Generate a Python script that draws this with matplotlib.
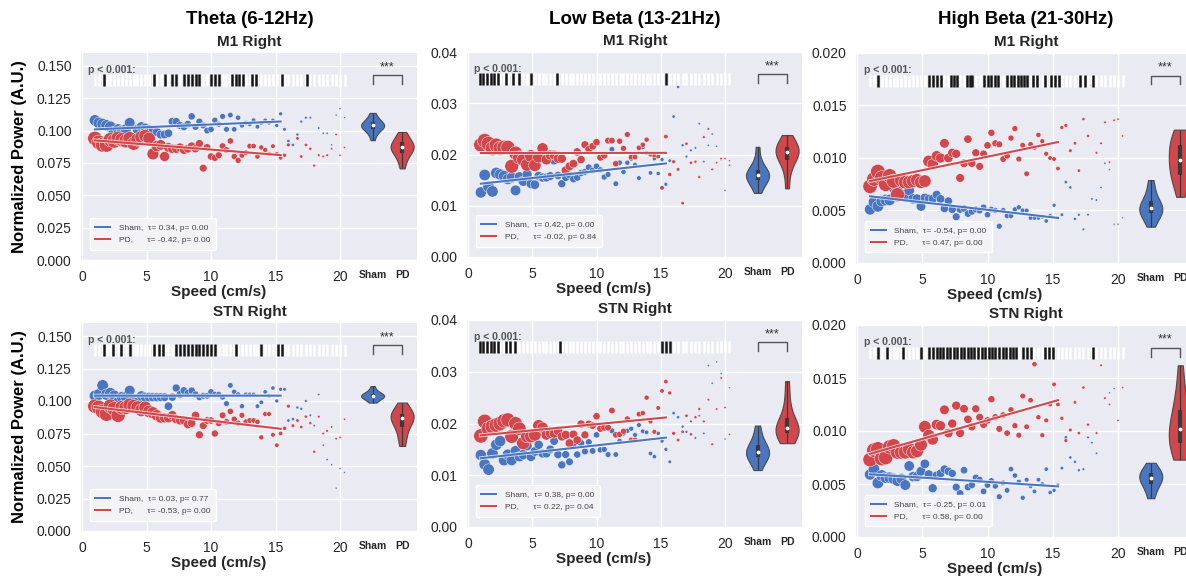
import numpy as np
import matplotlib.pyplot as plt
import matplotlib.patheffects as pe
from matplotlib.transforms import blended_transform_factory

plt.rcParams['font.family'] = ['Liberation Sans', 'DejaVu Sans']

NA = np.nan

# speed bins (cm/s): dense part up to 15.4, sparse part after
SPEED = [1.0, 1.3, 1.6, 1.9, 2.2, 2.5, 2.8, 3.1, 3.4, 3.7, 4.0, 4.3, 4.6, 4.9, 5.2, 5.5,
         5.8, 6.1, 6.4, 6.7, 7.0, 7.3, 7.6, 7.9, 8.2, 8.5, 8.8, 9.1, 9.4, 9.7, 10.0, 10.3,
         10.6, 10.9, 11.2, 11.5, 11.8, 12.1, 12.4, 12.7, 13.0, 13.3, 13.6, 13.9, 14.2, 14.5,
         14.8, 15.1, 15.4,
         15.7, 16.0, 16.35, 16.7, 17.0, 17.35, 17.7, 18.0, 18.35, 18.7, 19.0, 19.35, 19.7,
         20.0, 20.35]

# samples per speed bin (drives the marker size)
SHAM_N = [150, 158, 160, 158, 155, 152, 148, 145, 140, 135, 130, 124, 118, 112, 106, 100,
          96, 92, 88, 84, 80, 76, 72, 68, 64, 61, 58, 55, 52, 49, 46, 43, 41, 39, 37, 35,
          33, 31, 29, 27, 25, 24, 23, 22, 21, 20, 19, 17, 16,
          13, 11, 10, 9, 8, 7, 6, 5, 5, 4, 4, 3, 3, 3, 2]
PD_N = [250, 255, 260, 258, 252, 248, 244, 240, 232, 225, 218, 210, 202, 195, 188, 170,
        150, 132, 120, 110, 104, 98, 94, 90, 86, 82, 78, 74, 70, 66, 62, 58, 55, 52, 49,
        46, 43, 41, 39, 37, 35, 33, 31, 29, 27, 25, 23, 22, 21,
        17, 15, 13, 12, 11, 10, 9, 8, 7, 6, 6, 5, 5, 4, 4]

# ---- Theta ----
THETA_M1_SHAM = [0.108, 0.106, 0.105, 0.104, 0.103, 0.099, 0.101, 0.100, 0.101, 0.106,
                 0.094, 0.101, 0.103, 0.102, 0.101, 0.100, 0.099, 0.097, 0.097, 0.098,
                 0.107, 0.107, 0.104, 0.103, 0.105, 0.111, 0.103, 0.107, 0.104, 0.100,
                 0.101, 0.108, 0.105, 0.111, 0.101, 0.112, 0.101, 0.110, 0.104, 0.106,
                 0.105, 0.108, 0.103, 0.106, 0.108, 0.106, 0.108, 0.104, 0.113,
                 0.101, 0.092, 0.089, 0.097, 0.107, 0.110, 0.110, NA, 0.102, 0.098, 0.098,
                 0.089, 0.112, 0.117, 0.110]
THETA_M1_PD = [0.094, 0.091, 0.089, 0.089, 0.093, 0.092, 0.094, 0.093, 0.092, 0.094,
               0.090, 0.093, 0.095, 0.096, 0.094, 0.082, 0.088, 0.089, 0.080, 0.087,
               0.086, 0.086, 0.087, 0.085, 0.086, 0.088, 0.086, 0.090, 0.071, 0.087,
               0.080, 0.079, 0.081, 0.088, 0.085, 0.092, 0.080, 0.077, 0.081, 0.083,
               0.088, 0.088, 0.080, 0.087, 0.085, 0.082, 0.088, 0.082, 0.079,
               0.081, 0.089, NA, 0.094, 0.080, 0.089, 0.086, 0.073, 0.081, 0.080, 0.081,
               0.086, 0.097, 0.081, 0.087]
THETA_STN_SHAM = [0.104, 0.105, 0.112, 0.105, 0.106, 0.104, 0.099, 0.103, 0.103, 0.108,
                  0.101, 0.099, 0.104, 0.103, 0.103, 0.103, 0.103, 0.103, 0.103, 0.096,
                  0.103, 0.110, 0.105, 0.108, 0.106, 0.108, 0.105, 0.103, 0.104, 0.104,
                  0.107, 0.105, 0.105, 0.103, 0.098, 0.112, 0.107, 0.105, 0.096, 0.105,
                  0.105, 0.105, 0.096, 0.099, 0.107, 0.104, 0.110, 0.100, 0.109,
                  0.109, 0.085, 0.086, 0.095, 0.094, 0.100, 0.089, 0.081, 0.105, 0.066,
                  0.055, 0.051, 0.033, 0.048, 0.045]
THETA_STN_PD = [0.096, 0.095, 0.092, 0.090, 0.096, 0.094, 0.089, 0.095, 0.095, 0.097,
                0.096, 0.095, 0.093, 0.095, 0.092, 0.091, 0.089, 0.087, 0.087, 0.087,
                0.089, 0.086, 0.085, 0.085, 0.082, 0.083, 0.089, 0.074, 0.081, 0.085,
                0.085, 0.075, 0.083, 0.089, 0.084, 0.092, 0.086, 0.083, 0.089, 0.084,
                0.085, 0.085, 0.084, 0.072, 0.090, 0.090, 0.074, 0.066, 0.075,
                0.079, 0.096, 0.081, 0.085, 0.080, 0.088, 0.083, 0.061, 0.088, 0.075,
                0.077, 0.080, 0.071, 0.072, 0.086]

# ---- Low beta ----
LOWB_M1_SHAM = [0.0126, 0.0160, 0.0137, 0.0128, 0.0164, 0.0161, 0.0158, 0.0152, 0.0155, 0.0130,
                0.0156, 0.0148, 0.0161, 0.0143, 0.0141, 0.0158, 0.0155, 0.0155, 0.0158, 0.0188,
                0.0159, 0.0143, 0.0155, 0.0160, 0.0152, 0.0155, 0.0164, 0.0166, 0.0175, 0.0169,
                0.0177, 0.0170, 0.0156, 0.0161, 0.0210, 0.0143, 0.0184, 0.0166, 0.0184, 0.0192,
                0.0180, 0.0154, 0.0214, 0.0203, 0.0164, 0.0192, 0.0163, 0.0190, 0.0142,
                0.0188, 0.0274, 0.0332, 0.0218, 0.0196, 0.0208, 0.0213, 0.0260, 0.0186, 0.0218,
                0.0240, 0.0216, 0.0190, 0.0130, 0.0188]
LOWB_M1_PD = [0.0219, 0.0227, 0.0221, 0.0212, 0.0218, 0.0212, 0.0214, 0.0214, 0.0177, 0.0203,
              0.0194, 0.0190, 0.0180, 0.0197, 0.0179, 0.0195, 0.0212, 0.0190, 0.0199, 0.0199,
              0.0192, 0.0192, 0.0169, 0.0177, 0.0182, 0.0205, 0.0190, 0.0219, 0.0210, 0.0216,
              0.0224, 0.0194, 0.0198, 0.0227, 0.0227, 0.0182, 0.0226, 0.0212, 0.0239, 0.0195,
              0.0195, 0.0213, 0.0219, 0.0229, 0.0200, 0.0198, 0.0196, 0.0135, 0.0235,
              0.0161, 0.0186, 0.0171, 0.0105, 0.0221, 0.0184, 0.0186, 0.0156, 0.0234, 0.0250,
              0.0171, 0.0184, 0.0192, 0.0192, 0.0179]
LOWB_STN_SHAM = [0.0139, 0.0121, 0.0111, 0.0142, 0.0159, 0.0166, 0.0129, 0.0140, 0.0129, 0.0147,
                 0.0136, 0.0140, 0.0157, 0.0136, 0.0146, 0.0159, 0.0142, 0.0142, 0.0150, 0.0166,
                 0.0140, 0.0120, 0.0140, 0.0126, 0.0160, 0.0140, 0.0162, 0.0146, 0.0164, 0.0147,
                 0.0178, 0.0149, 0.0150, 0.0140, 0.0186, 0.0140, 0.0166, 0.0181, 0.0186, 0.0190,
                 0.0178, 0.0197, 0.0185, 0.0183, 0.0142, 0.0136, 0.0181, 0.0166, 0.0150,
                 0.0126, 0.0220, 0.0212, 0.0194, 0.0184, 0.0204, 0.0172, 0.0215, 0.0181, 0.0312,
                 0.0278, 0.0319, 0.0296, 0.0170, 0.0269]
LOWB_STN_PD = [0.0176, 0.0204, 0.0190, 0.0194, 0.0197, 0.0200, 0.0205, 0.0207, 0.0175, 0.0200,
               0.0190, 0.0162, 0.0175, 0.0175, 0.0178, 0.0196, 0.0192, 0.0178, 0.0181, 0.0181,
               0.0186, 0.0175, 0.0178, 0.0162, 0.0179, 0.0168, 0.0199, 0.0178, 0.0199, 0.0196,
               0.0214, 0.0190, 0.0192, 0.0192, 0.0225, 0.0178, 0.0179, 0.0185, 0.0209, 0.0168,
               0.0168, 0.0218, 0.0220, 0.0250, 0.0204, 0.0184, 0.0230, 0.0263, 0.0281,
               0.0259, 0.0181, 0.0168, 0.0184, 0.0215, 0.0179, 0.0212, 0.0228, 0.0204, 0.0246,
               0.0160, 0.0228, 0.0288, 0.0231, 0.0179]

# ---- High beta ----
HIGHB_M1_SHAM = [0.0051, 0.0058, 0.0054, 0.0059, 0.0060, 0.0060, 0.0072, 0.0070, 0.0065, 0.0063,
                 0.0069, 0.0061, 0.0061, 0.0054, 0.0062, 0.0061, 0.0061, 0.0065, 0.0061, 0.0052,
                 0.0059, 0.0051, 0.0044, 0.0051, 0.0052, 0.0047, 0.0049, 0.0051, 0.0050, 0.0053,
                 0.0046, 0.0051, 0.0050, 0.0035, 0.0050, 0.0045, 0.0045, 0.0051, 0.0053, 0.0050,
                 0.0050, 0.0043, 0.0043, 0.0043, 0.0044, 0.0040, 0.0045, 0.0055, 0.0043,
                 0.0046, 0.0077, 0.0072, 0.0042, 0.0046, 0.0032, 0.0046, 0.0061, 0.0060, 0.0072,
                 0.0095, 0.0089, 0.0037, 0.0037, 0.0043]
HIGHB_M1_PD = [0.0073, 0.0080, 0.0087, 0.0081, 0.0075, 0.0083, 0.0078, 0.0065, 0.0079, 0.0077,
               0.0077, 0.0078, 0.0079, 0.0077, 0.0078, 0.0097, 0.0094, 0.0102, 0.0100, 0.0114,
               0.0100, 0.0105, 0.0104, 0.0081, 0.0095, 0.0118, 0.0095, 0.0105, 0.0092, 0.0104,
               0.0112, 0.0124, 0.0114, 0.0113, 0.0099, 0.0102, 0.0119, 0.0128, 0.0099, 0.0112,
               0.0085, 0.0113, 0.0110, 0.0122, 0.0116, 0.0104, 0.0100, 0.0099, 0.0090,
               0.0129, 0.0131, 0.0107, 0.0114, 0.0088, 0.0137, 0.0121, 0.0169, 0.0105, 0.0114,
               0.0134, 0.0096, 0.0136, 0.0137, 0.0121]
HIGHB_STN_SHAM = [0.0059, 0.0064, 0.0051, 0.0058, 0.0056, 0.0056, 0.0055, 0.0053, 0.0055, 0.0049,
                  0.0067, 0.0057, 0.0057, 0.0062, 0.0069, 0.0059, 0.0046, 0.0058, 0.0060, 0.0064,
                  0.0062, 0.0060, 0.0047, 0.0041, 0.0063, 0.0047, 0.0049, 0.0056, 0.0054, 0.0043,
                  0.0049, 0.0053, 0.0048, 0.0038, 0.0051, 0.0044, 0.0064, 0.0058, 0.0052, 0.0037,
                  0.0054, 0.0048, 0.0043, 0.0054, 0.0050, 0.0064, 0.0042, 0.0044, 0.0049,
                  0.0065, 0.0094, 0.0075, 0.0071, 0.0063, 0.0064, 0.0094, 0.0089, 0.0079, NA,
                  NA, 0.0136, 0.0140, NA, NA]
HIGHB_STN_PD = [0.0073, 0.0082, 0.0083, 0.0074, 0.0075, 0.0085, 0.0086, 0.0080, 0.0080, 0.0080,
                0.0083, 0.0080, 0.0081, 0.0087, 0.0104, 0.0096, 0.0092, 0.0106, 0.0105, 0.0120,
                0.0098, 0.0107, 0.0124, 0.0098, 0.0121, 0.0111, 0.0104, 0.0121, 0.0113, 0.0106,
                0.0110, 0.0130, 0.0113, 0.0102, 0.0115, 0.0098, 0.0120, 0.0105, 0.0096, 0.0133,
                0.0104, 0.0129, 0.0163, 0.0113, 0.0096, 0.0110, 0.0125, 0.0144, 0.0125,
                0.0112, 0.0091, 0.0101, 0.0127, 0.0098, 0.0141, 0.0106, NA, 0.0098, 0.0162,
                0.0131, 0.0125, NA, 0.0110, 0.0141]

# violin (group comparison) values
V_THETA_M1_SHAM = [0.0926, 0.097, 0.099, 0.101, 0.102, 0.103, 0.1035, 0.104, 0.1045, 0.105,
                   0.106, 0.107, 0.109, 0.111, 0.1137]
V_THETA_M1_PD = [0.0708, 0.076, 0.079, 0.082, 0.084, 0.085, 0.086, 0.087, 0.088, 0.089,
                 0.090, 0.092, 0.094, 0.096, 0.099]
V_THETA_STN_SHAM = [0.0988, 0.1005, 0.102, 0.1028, 0.1033, 0.1038, 0.1042, 0.1047, 0.1055,
                    0.1065, 0.108, 0.1115]
V_THETA_STN_PD = [0.0654, 0.071, 0.076, 0.080, 0.083, 0.085, 0.087, 0.088, 0.089, 0.090,
                  0.092, 0.094, 0.0988]
V_LOWB_M1_SHAM = [0.0125, 0.0138, 0.0147, 0.0152, 0.0156, 0.0159, 0.0161, 0.0164, 0.0168,
                  0.0175, 0.0188, 0.0215]
V_LOWB_M1_PD = [0.0134, 0.0165, 0.0182, 0.0192, 0.0198, 0.0202, 0.0206, 0.0210, 0.0214,
                0.0219, 0.0226, 0.0238]
V_LOWB_STN_SHAM = [0.0110, 0.0125, 0.0133, 0.0138, 0.0142, 0.0145, 0.0149, 0.0155, 0.0163,
                   0.0175, 0.0196]
V_LOWB_STN_PD = [0.0162, 0.0172, 0.0178, 0.0182, 0.0186, 0.0189, 0.0193, 0.0198, 0.0206,
                 0.0222, 0.0248, 0.0282]
V_HIGHB_M1_SHAM = [0.00346, 0.0042, 0.0046, 0.0049, 0.0051, 0.0052, 0.0054, 0.0057, 0.0062,
                   0.0069, 0.0079]
V_HIGHB_M1_PD = [0.0063, 0.0075, 0.0080, 0.0084, 0.0090, 0.0095, 0.0098, 0.0103, 0.0108,
                 0.0112, 0.0117, 0.0122, 0.0127]
V_HIGHB_STN_SHAM = [0.00366, 0.0044, 0.0049, 0.0052, 0.0055, 0.0057, 0.0059, 0.0061, 0.0064,
                    0.0070]
V_HIGHB_STN_PD = [0.0073, 0.0080, 0.0086, 0.0090, 0.0094, 0.0099, 0.0105, 0.0110, 0.0118,
                  0.0127, 0.0140, 0.0162]

# speeds with significant group difference (p < 0.001)
SIG_THETA_M1 = [1.7, 5.6, 6.4, 7.0, 7.3, 7.9, 8.2, 8.5, 8.8, 9.1, 10.0, 10.3, 10.6, 11.6,
                11.9, 12.2, 12.5, 13.2, 13.5, 15.5, 17.45]
SIG_THETA_STN = [1.7, 2.4, 3.0, 3.7, 5.6, 5.95, 6.3, 7.3, 7.6, 7.9, 8.2, 8.5, 8.8, 9.1, 9.4,
                 9.7, 10.0, 10.3, 11.9, 13.9, 15.2, 15.5]
SIG_LOWB_M1 = [0.9, 1.2, 1.5, 1.8, 2.05, 2.3, 2.95, 3.5, 3.95, 4.9, 6.9, 15.4]
SIG_LOWB_STN = [0.9, 1.2, 1.5, 1.8, 2.05, 2.3, 2.95, 3.3, 3.65, 7.15, 15.1, 15.4, 15.7]
SIG_HIGHB_M1 = [1.6, 5.55, 5.8, 6.1, 6.4, 7.2, 7.45, 7.7, 8.45, 8.65, 8.85, 9.75, 10.0, 10.3,
                10.55, 10.8, 11.5, 11.8, 12.05, 12.3, 12.55, 12.8, 13.05, 13.5, 13.8, 14.4,
                14.9, 15.2, 15.5, 17.05, 17.45, 18.05]
SIG_HIGHB_STN = [1.6, 2.3, 3.55, 4.9, 5.55, 5.8, 6.1, 6.35, 6.6, 6.9, 7.15, 7.4, 7.7, 7.95,
                 8.2, 8.5, 8.75, 9.0, 9.3, 9.55, 9.8, 10.1, 10.35, 10.6, 10.9, 11.15, 11.4,
                 11.7, 11.95, 12.2, 12.7, 13.0, 13.3, 14.4, 14.7, 15.0, 18.05]

# Kendall tau / p (sham, PD)
STATS_THETA_M1 = [('0.34', '0.00'), ('-0.42', '0.00')]
STATS_THETA_STN = [('0.03', '0.77'), ('-0.53', '0.00')]
STATS_LOWB_M1 = [('0.42', '0.00'), ('-0.02', '0.84')]
STATS_LOWB_STN = [('0.38', '0.00'), ('0.22', '0.04')]
STATS_HIGHB_M1 = [('-0.54', '0.00'), ('0.47', '0.00')]
STATS_HIGHB_STN = [('-0.25', '0.01'), ('0.58', '0.00')]

BANDS = ['Theta (6-12Hz)', 'Low Beta (13-21Hz)', 'High Beta (21-30Hz)']
REGIONS = ['M1 Right', 'STN Right']

BLUE = '#4a76c1'
RED = '#d2474c'
BG = '#eaeaf2'
INK = '#262626'

W, H = 1186, 577
fig = plt.figure(figsize=(W / 100, H / 100), dpi=100)


def fx(px):
    return px / W


def fy(py):
    return 1 - py / H


# layout in pixels: x of speed 0, px per cm/s ; (top, bottom) per row
COLS = [(82, 12.9), (468, 12.85), (857, 13.05)]
ROWS = [[(53, 260), (52, 257), (53, 263)], [(323, 531), (320, 527), (325, 537)]]
XMIN, XMAX = -0.05, 21.2
VW = 62
YLIMS = [(0.16, 0.025, '{:.3f}'), (0.04, 0.01, '{:.2f}'), (0.02, 0.005, '{:.3f}')]


def style(ax):
    ax.set_facecolor(BG)
    for s in ax.spines.values():
        s.set_visible(False)
    ax.set_axisbelow(True)
    ax.tick_params(length=0, pad=7, labelsize=10, colors=INK)


def panel(row, col, sham, pd, vsham, vpd, sig, stats):
    x0, ppu = COLS[col]
    top, bot = ROWS[row][col]
    left = x0 + XMIN * ppu
    right = x0 + XMAX * ppu
    ytop, ystep, yfmt = YLIMS[col]

    ax = fig.add_axes([fx(left), fy(bot), fx(right - left), (bot - top) / H])
    axv = fig.add_axes([fx(right), fy(bot), fx(VW), (bot - top) / H], sharey=ax)
    style(ax)
    style(axv)

    speed = np.array(SPEED)
    sham = np.array(sham, dtype=float)
    pd = np.array(pd, dtype=float)
    ax.scatter(speed, sham, s=np.array(SHAM_N) * 0.42 + 1, color=BLUE, edgecolor='white',
               linewidth=0.3, zorder=3)
    ax.scatter(speed, pd, s=np.array(PD_N) * 0.42 + 1, color=RED, edgecolor='white',
               linewidth=0.3, zorder=3)

    for vals, c, name, (tau, p) in zip([sham, pd], [BLUE, RED], ['Sham,  ', 'PD,      '], stats):
        m = (speed <= 15.5) & ~np.isnan(vals)
        k, b = np.polyfit(speed[m], vals[m], 1)
        xx = np.array([speed[m].min(), speed[m].max()])
        ax.plot(xx, k * xx + b, color=c, lw=1.5, zorder=4,
                path_effects=[pe.Stroke(linewidth=2.8, foreground='white', alpha=0.7), pe.Normal()],
                label=f'{name}\u03c4= {tau}, p= {p}')

    leg = ax.legend(loc='lower left', bbox_to_anchor=(0.03, 0.05), borderaxespad=0,
                    fontsize=6, facecolor='#f3f3f7', edgecolor='white', framealpha=1,
                    handlelength=1.8, labelspacing=0.5, borderpad=0.7, handletextpad=1.0)
    for t in leg.get_texts():
        t.set_color('#444444')

    # significance row
    tr = blended_transform_factory(ax.transData, ax.transAxes)
    ax.plot(speed, np.full(len(speed), 0.868), ls='none', marker='|', ms=8, mew=1.8,
            color='white', transform=tr, zorder=5)
    ax.plot(sig, np.full(len(sig), 0.868), ls='none', marker='|', ms=8, mew=1.8,
            color='#151515', transform=tr, zorder=6)
    ax.text(0.5, 0.918, 'p < 0.001:', transform=tr, fontsize=7.5, fontweight='bold',
            color='#555555', ha='left', va='center')

    ax.set_xlim(XMIN, XMAX)
    ax.set_xticks([0, 5, 10, 15, 20])
    ax.set_ylim(0, ytop)
    yt = np.arange(0, ytop + 1e-9, ystep)
    ax.set_yticks(yt)
    ax.set_yticklabels([yfmt.format(v) for v in yt])
    ax.grid(color='white', lw=1)
    ax.set_xlabel('Speed (cm/s)', fontsize=11, fontweight='bold', color=INK, labelpad=1)

    # violins
    parts = axv.violinplot([vsham, vpd], positions=[0, 1], widths=0.78, showextrema=False)
    for body, c in zip(parts['bodies'], [BLUE, RED]):
        body.set_facecolor(c)
        body.set_edgecolor('#4a4a4a')
        body.set_linewidth(0.8)
        body.set_alpha(1)
    for i, v in enumerate([vsham, vpd]):
        q1, med, q3 = np.percentile(v, [25, 50, 75])
        axv.vlines(i, min(v), max(v), color='#3a3a3a', lw=0.9, zorder=3)
        axv.vlines(i, q1, q3, color='#3a3a3a', lw=3.0, zorder=3)
        axv.scatter([i], [med], s=3, color='white', zorder=4)
    trv = blended_transform_factory(axv.transData, axv.transAxes)
    axv.plot([0, 0, 1, 1], [0.85, 0.892, 0.892, 0.85], color='#555555', lw=1, transform=trv)
    axv.text(0.5, 0.93, '***', transform=trv, fontsize=9, color='#333333',
             ha='center', va='center')
    axv.set_xlim(-0.58, 1.52)
    axv.set_xticks([0, 1])
    axv.set_xticklabels(['Sham', 'PD'], fontweight='bold', fontsize=7.5)
    axv.tick_params(labelleft=False)
    axv.grid(axis='y', color='white', lw=1)
    axv.grid(axis='x', visible=False)

    cx = (left + right + VW) / 2
    fig.text(fx(cx), fy(top - 11), REGIONS[row], fontsize=11, fontweight='bold',
             color=INK, ha='center', va='center')
    if row == 0:
        fig.text(fx(cx), fy(20), BANDS[col], fontsize=13.5, fontweight='bold',
                 color='black', ha='center', va='center')


panel(0, 0, THETA_M1_SHAM, THETA_M1_PD, V_THETA_M1_SHAM, V_THETA_M1_PD, SIG_THETA_M1, STATS_THETA_M1)
panel(1, 0, THETA_STN_SHAM, THETA_STN_PD, V_THETA_STN_SHAM, V_THETA_STN_PD, SIG_THETA_STN, STATS_THETA_STN)
panel(0, 1, LOWB_M1_SHAM, LOWB_M1_PD, V_LOWB_M1_SHAM, V_LOWB_M1_PD, SIG_LOWB_M1, STATS_LOWB_M1)
panel(1, 1, LOWB_STN_SHAM, LOWB_STN_PD, V_LOWB_STN_SHAM, V_LOWB_STN_PD, SIG_LOWB_STN, STATS_LOWB_STN)
panel(0, 2, HIGHB_M1_SHAM, HIGHB_M1_PD, V_HIGHB_M1_SHAM, V_HIGHB_M1_PD, SIG_HIGHB_M1, STATS_HIGHB_M1)
panel(1, 2, HIGHB_STN_SHAM, HIGHB_STN_PD, V_HIGHB_STN_SHAM, V_HIGHB_STN_PD, SIG_HIGHB_STN, STATS_HIGHB_STN)

for yc in (157, 427):
    fig.text(fx(20), fy(yc), 'Normalized Power (A.U.)', rotation=90, fontsize=12,
             fontweight='bold', color='black', ha='center', va='center')

fig.savefig('out.png', dpi=100)
